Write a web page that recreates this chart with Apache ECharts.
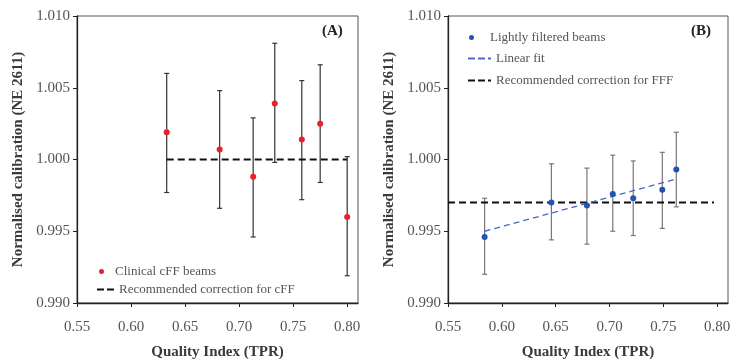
<!DOCTYPE html>
<html><head><meta charset="utf-8">
<script src="https://cdn.jsdelivr.net/npm/echarts@6/dist/echarts.min.js"></script>
<style>html,body{margin:0;padding:0;background:#fff}#c{width:742px;height:359px}</style>
</head><body><div id="c"></div>
<script>
// Panel A: clinical cFF beams
const qiA = [0.633, 0.682, 0.713, 0.733, 0.758, 0.775, 0.800];
const calA = [1.0019, 1.0007, 0.9988, 1.0039, 1.0014, 1.0025, 0.9960];
const hiA = [1.0060, 1.0048, 1.0029, 1.0081, 1.0055, 1.0066, 1.0002];
const loA = [0.9977, 0.9966, 0.9946, 0.9998, 0.9972, 0.9984, 0.9919];
const recA = [[0.633, 1.000], [0.800, 1.000]];
// Panel B: lightly filtered beams
const qiB = [0.584, 0.646, 0.679, 0.703, 0.722, 0.749, 0.762];
const calB = [0.9946, 0.9970, 0.9968, 0.9976, 0.9973, 0.9979, 0.9993];
const hiB = [0.9973, 0.9997, 0.9994, 1.0003, 0.9999, 1.0005, 1.0019];
const loB = [0.9920, 0.9944, 0.9941, 0.9950, 0.9947, 0.9952, 0.9967];
const fitB = [[0.584, 0.9950], [0.760, 0.9986]];
const recB = [[0.55, 0.997], [0.797, 0.997]];
const xTicks = [0.55, 0.60, 0.65, 0.70, 0.75, 0.80];
const yTicks = [0.990, 0.995, 1.000, 1.005, 1.010];

const FONT = '"Liberation Serif", "DejaVu Serif", serif';
function xAxisCfg(gi) {
  return {
    type: 'value', gridIndex: gi, min: 0.55, max: 0.81,
    name: 'Quality Index (TPR)', nameLocation: 'middle', nameGap: 42,
    nameTextStyle: {fontFamily: FONT, fontSize: 15, fontWeight: 'bold', color: '#3a3a3a'},
    axisLine: {show: true, onZero: false, lineStyle: {color: '#222', width: 1.3}},
    axisTick: {show: true, inside: false, length: 4, customValues: xTicks, lineStyle: {color: '#222'}},
    axisLabel: {customValues: xTicks, formatter: v => v.toFixed(2), fontFamily: FONT, fontSize: 15, color: '#555', margin: 17},
    splitLine: {show: false}
  };
}
function yAxisCfg(gi) {
  return {
    type: 'value', gridIndex: gi, min: 0.990, max: 1.010,
    name: 'Normalised calibration (NE 2611)', nameLocation: 'middle', nameGap: 51, nameRotate: 90,
    nameTextStyle: {fontFamily: FONT, fontSize: 15, fontWeight: 'bold', color: '#3a3a3a'},
    axisLine: {show: true, onZero: false, lineStyle: {color: '#222', width: 1.3}},
    axisTick: {show: true, inside: false, length: 4, customValues: yTicks, lineStyle: {color: '#222'}},
    axisLabel: {customValues: yTicks, formatter: v => v.toFixed(3), fontFamily: FONT, fontSize: 15, color: '#555', margin: 7},
    splitLine: {show: false}
  };
}
function errSeries(gi, xs, lo, hi, color) {
  return {
    type: 'custom', xAxisIndex: gi, yAxisIndex: gi, silent: true, z: 1,
    data: xs.map((x, i) => [x, lo[i], hi[i]]),
    renderItem: function (params, api) {
      const a = api.coord([api.value(0), api.value(1)]);
      const b = api.coord([api.value(0), api.value(2)]);
      const s = {stroke: color, lineWidth: 1.2};
      return {type: 'group', children: [
        {type: 'line', shape: {x1: a[0], y1: a[1], x2: b[0], y2: b[1]}, style: s},
        {type: 'line', shape: {x1: a[0] - 2.5, y1: a[1], x2: a[0] + 2.5, y2: a[1]}, style: s},
        {type: 'line', shape: {x1: b[0] - 2.5, y1: b[1], x2: b[0] + 2.5, y2: b[1]}, style: s}
      ]};
    }
  };
}
const TS = {fontFamily: FONT, fontSize: 13, color: '#555'};
const dashA = 'path://M0,0h7v2h-7zM10,0h7v2h-7z';
const dashB = 'path://M0,0h7v2h-7zM10,0h7v2h-7zM20,0h3v2h-3z';
function leg(name, left, top, icon, w, h) {
  return {orient: 'vertical', left: left, top: top, itemGap: 0, itemWidth: w, itemHeight: h,
    textStyle: TS, selectedMode: false, data: [{name: name, icon: icon}]};
}
const chart = echarts.init(document.getElementById('c'));
chart.setOption({
  animation: false,
  backgroundColor: '#fff',
  grid: [
    {left: 77, right: 384, top: 16, bottom: 56, show: true, borderColor: '#555', borderWidth: 1,
     containLabel: false, outerBoundsMode: 'none'},
    {left: 448, right: 14, top: 16, bottom: 56, show: true, borderColor: '#555', borderWidth: 1,
     containLabel: false, outerBoundsMode: 'none'}
  ],
  xAxis: [xAxisCfg(0), xAxisCfg(1)],
  yAxis: [yAxisCfg(0), yAxisCfg(1)],
  legend: [
    leg('Clinical cFF beams', 94, 260, 'circle', 17, 5),
    leg('Recommended correction for cFF', 92, 278, dashA, 17, 2),
    leg('Lightly filtered beams', 464, 26, 'circle', 27, 5),
    leg('Linear fit', 463, 47, dashB, 23, 2),
    leg('Recommended correction for FFF', 463, 69, dashB, 23, 2)
  ],
  graphic: [
    {type: 'text', left: 322, top: 24, style: {text: '(A)', font: 'bold 15px ' + FONT, fill: '#222'}},
    {type: 'text', left: 691, top: 24, style: {text: '(B)', font: 'bold 15px ' + FONT, fill: '#222'}}
  ],
  series: [
    errSeries(0, qiA, loA, hiA, '#333'),
    {name: 'Recommended correction for cFF', type: 'line', xAxisIndex: 0, yAxisIndex: 0, data: recA, symbol: 'none', z: 2,
     lineStyle: {color: '#111', width: 2, type: [7, 4]}, itemStyle: {color: '#111'}},
    {name: 'Clinical cFF beams', type: 'scatter', xAxisIndex: 0, yAxisIndex: 0, symbolSize: 6, z: 3,
     data: qiA.map((x, i) => [x, calA[i]]), itemStyle: {color: '#ea1f2b', opacity: 1}},
    errSeries(1, qiB, loB, hiB, '#777'),
    {name: 'Recommended correction for FFF', type: 'line', xAxisIndex: 1, yAxisIndex: 1, data: recB, symbol: 'none', z: 2,
     lineStyle: {color: '#111', width: 2, type: [7, 4]}, itemStyle: {color: '#111'}},
    {name: 'Linear fit', type: 'line', xAxisIndex: 1, yAxisIndex: 1, data: fitB, symbol: 'none', z: 2,
     lineStyle: {color: '#4a66cc', width: 1.3, type: [6, 4]}, itemStyle: {color: '#4a66cc'}},
    {name: 'Lightly filtered beams', type: 'scatter', xAxisIndex: 1, yAxisIndex: 1, symbolSize: 6, z: 3,
     data: qiB.map((x, i) => [x, calB[i]]), itemStyle: {color: '#2452b6', opacity: 1}}
  ]
});
</script></body></html>
